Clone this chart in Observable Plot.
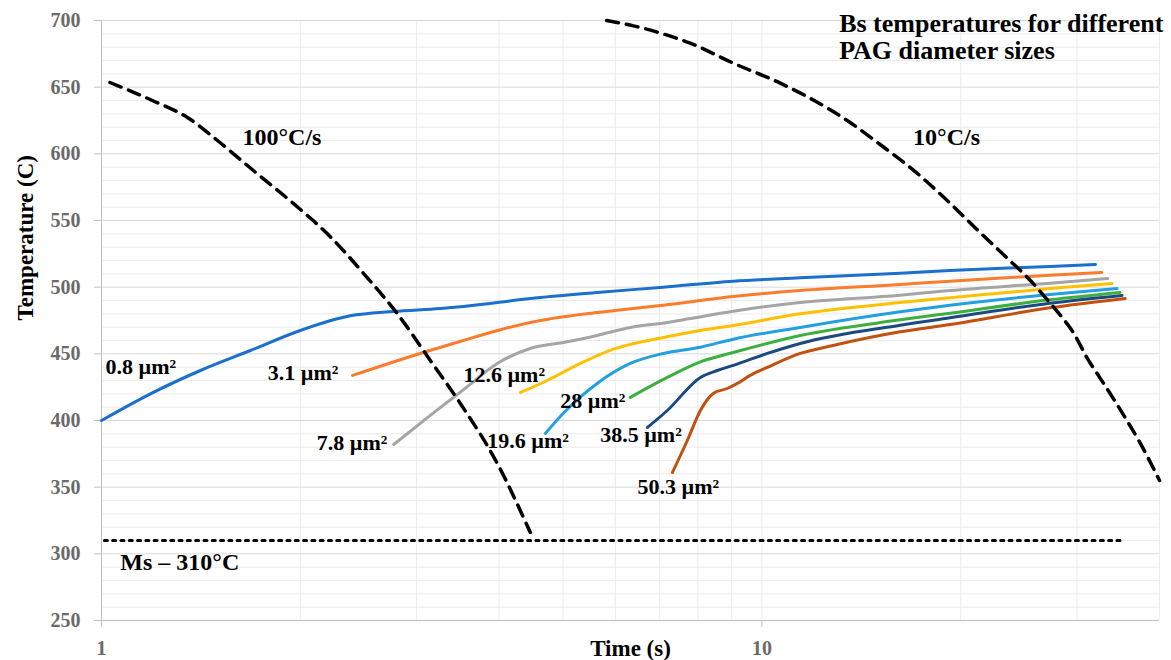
<!DOCTYPE html>
<html>
<head>
<meta charset="utf-8">
<script src="https://cdn.jsdelivr.net/npm/d3@7"></script>
<script src="https://cdn.jsdelivr.net/npm/@observablehq/plot@0.6"></script>
<style>
  html, body { margin: 0; padding: 0; background: #fff; }
  #chart { width: 1171px; height: 660px; }
</style>
</head>
<body>
<div id="chart"></div>
<script>
// ---- Data ----
const seriesNames = ["0.8 µm²", "3.1 µm²", "7.8 µm²", "12.6 µm²", "19.6 µm²", "28 µm²", "38.5 µm²", "50.3 µm²"];
const seriesColors = ["#1b6fcd", "#fb7c2c", "#a5a5a5", "#ffc000", "#22a0e0", "#3daf3f", "#1b4a80", "#c2500f"];

const t08  = [1.0, 1.186, 1.412, 1.681, 2.0, 2.38, 2.77, 3.26, 3.53, 4.46, 5.63, 7.09, 9.05, 11.43, 16.2, 19.27, 27.3, 32.0];
const T08  = [400, 420, 437.5, 452.5, 467.5, 478.5, 481.8, 484, 485.5, 491.5, 496, 500, 504.5, 507, 510.5, 512.5, 515.5, 517];
const t31  = [2.40, 3.07, 3.53, 3.98, 4.46, 5.63, 7.09, 9.05, 11.43, 16.2, 19.27, 27.3, 32.7];
const T31  = [433.8, 451, 460, 467.5, 473.5, 481, 486.5, 493, 497.5, 502, 504.5, 509, 511];
const t78  = [2.77, 3.15, 3.53, 3.98, 4.46, 5.0, 5.63, 6.32, 7.19, 7.79, 9.05, 11.43, 16.2, 19.27, 27.3, 33.4];
const T78  = [382, 404, 423, 443, 454, 458.5, 463.8, 469.8, 473.5, 476.5, 482, 488.5, 494, 497.5, 503, 506.5];
const t126 = [4.31, 4.73, 5.31, 5.96, 7.09, 8.07, 9.05, 11.43, 16.2, 19.27, 27.3, 33.9];
const T126 = [421, 430, 442.8, 453.5, 462.3, 467.5, 471.3, 480, 488.5, 492, 499, 502.8];
const t196 = [4.70, 5.0, 5.63, 6.32, 7.09, 8.07, 9.05, 11.43, 16.2, 19.27, 27.3, 34.5];
const T196 = [390.3, 405.3, 427.8, 442.8, 450.3, 455, 461, 469.8, 481.5, 486.5, 494.5, 499];
const t28  = [6.32, 7.19, 8.07, 9.05, 11.43, 16.2, 19.27, 27.3, 34.85];
const T28  = [417.3, 432.3, 444, 451, 463.8, 475.5, 480.5, 490.5, 496];
const t385 = [6.71, 7.19, 8.07, 8.56, 9.05, 10.19, 11.43, 16.2, 19.27, 27.3, 35.1];
const T385 = [394.8, 407.5, 432.3, 437.5, 441.3, 450.3, 457.8, 471.5, 477, 488, 493.8];
const t503 = [7.32, 7.71, 8.07, 8.44, 8.86, 9.18, 9.60, 10.19, 11.43, 12.82, 16.2, 19.27, 27.3, 35.5];
const T503 = [361, 385, 407.5, 420.3, 424, 427.8, 433.8, 439.8, 450.3, 456.3, 466.5, 472, 484.5, 491.5];
const seriesTimes = [t08, t31, t78, t126, t196, t28, t385, t503];
const seriesTemps = [T08, T31, T78, T126, T196, T28, T385, T503];

// label anchors for each series (time, temperature)
const labelTimes = [1.014, 2.284, 2.71, 3.532, 3.838, 4.95, 5.69, 6.48];
const labelTemps = [440.5, 436, 383.5, 433.8, 384.3, 414.3, 388.8, 349.8];
const labelAnchors = ["start", "end", "end", "start", "start", "start", "start", "start"];

// cooling curves
const cool100Times = [1.03, 1.194, 1.349, 1.498, 1.698, 1.952, 2.198, 2.527, 2.806, 3.147, 3.494, 3.975, 4.46];
const cool100Temps = [653.5, 640, 627.3, 610, 587.5, 562.8, 540, 507, 480, 445, 412.8, 367.8, 316];
const cool10Times = [5.82, 6.39, 7.19, 7.79, 9.05, 10.66, 12.0, 13.46, 15.1, 16.94, 19.08, 21.4, 23.5, 25.5, 27.0, 28.3, 29.7, 31.07, 32.5, 34.0, 35.7, 37.4, 40.0];
const cool10Temps = [700, 696, 689, 683, 668, 653, 640, 625, 607, 588, 565, 541, 522, 505, 491, 479, 465, 447, 432, 417, 400, 383, 355];
const msTimes = [1.01, 34.9];
const msTemps = [310, 310];

const yTicks = [250, 300, 350, 400, 450, 500, 550, 600, 650, 700];
const yMinor = [260, 270, 280, 290, 310, 320, 330, 340, 360, 370, 380, 390, 410, 420, 430, 440, 460, 470, 480, 490, 510, 520, 530, 540, 560, 570, 580, 590, 610, 620, 630, 640, 660, 670, 680, 690];
const xTicks = [1, 10];
const xGrid = [2, 3, 4, 5, 6, 7, 8, 9, 10, 20, 30, 40];

const annotations = [
  {x: 1.635, y: 612.3, text: "100°C/s"},
  {x: 16.94, y: 612.3, text: "10°C/s"},
  {x: 1.068, y: 293.5, text: "Ms – 310°C"}
];
const titleLines = [
  {x: 13.09, y: 697.5, text: "Bs temperatures for different"},
  {x: 13.09, y: 677.5, text: "PAG diameter sizes"}
];

// ---- Build chart ----
const font = "Liberation Serif";
const seriesMarks = seriesNames.map((name, i) => {
  const rows = seriesTimes[i].map((t, j) => ({t, T: seriesTemps[i][j]}));
  return Plot.line(rows, {x: "t", y: "T", stroke: seriesColors[i], strokeWidth: 3, curve: "monotone-x"});
});
const labelRows = seriesNames.map((name, i) => ({x: labelTimes[i], y: labelTemps[i], text: name, anchor: labelAnchors[i]}));
const cool100 = cool100Times.map((t, j) => ({t, T: cool100Temps[j]}));
const cool10 = cool10Times.map((t, j) => ({t, T: cool10Temps[j]}));
const ms = msTimes.map((t, j) => ({t, T: msTemps[j]}));
const yTickRows = yTicks.map(v => ({v, label: String(v)}));
const xTickRows = xTicks.map(v => ({v, label: String(v)}));
const labelStyle = {x: "x", y: "y", text: "text", fontSize: 22, fontWeight: "bold", fill: "#000", lineAnchor: "middle"};

const chart = Plot.plot({
  width: 1171,
  height: 660,
  marginLeft: 101,
  marginRight: 12,
  marginTop: 20,
  marginBottom: 40,
  style: {fontFamily: font, fontSize: "18px", background: "#fff"},
  x: {type: "log", domain: [1, 40], axis: null},
  y: {domain: [250, 700], axis: null},
  marks: [
    Plot.gridY(yMinor, {stroke: "#ebebeb", strokeOpacity: 1}),
    Plot.gridX(xGrid, {stroke: "#ececec", strokeOpacity: 1}),
    Plot.gridY(yTicks, {stroke: "#d9d9d9", strokeOpacity: 1}),
    Plot.ruleX([1], {stroke: "#bfbfbf"}),
    Plot.ruleY([250], {stroke: "#bfbfbf"}),
    Plot.axisY(yTicks, {tickSize: 7, stroke: "#bfbfbf", tickFormat: () => "", label: null}),
    Plot.axisX(xTicks, {tickSize: 7, stroke: "#bfbfbf", tickFormat: () => "", label: null}),
    Plot.text(yTickRows, {y: "v", text: "label", frameAnchor: "left", dx: -21, textAnchor: "end", fill: "#6a6a6a", fontSize: 20, fontWeight: "bold", lineAnchor: "middle"}),
    Plot.text(xTickRows, {x: "v", text: "label", frameAnchor: "bottom", dy: 28, fill: "#6a6a6a", fontSize: 20, fontWeight: "bold", lineAnchor: "middle"}),
    Plot.line(ms, {x: "t", y: "T", stroke: "#000", strokeWidth: 3, strokeDasharray: "3,5.3"}),
    ...seriesMarks,
    Plot.line(cool100, {x: "t", y: "T", stroke: "#000", strokeWidth: 3.5, strokeDasharray: "12,8", curve: "monotone-x"}),
    Plot.line(cool10, {x: "t", y: "T", stroke: "#000", strokeWidth: 3.5, strokeDasharray: "12,8", curve: "monotone-x"}),
    Plot.text(labelRows.filter(d => d.anchor === "start"), {...labelStyle, textAnchor: "start"}),
    Plot.text(labelRows.filter(d => d.anchor === "end"), {...labelStyle, textAnchor: "end"}),
    Plot.text(annotations, {x: "x", y: "y", text: "text", textAnchor: "start", fontSize: 24, fontWeight: "bold", fill: "#000", lineAnchor: "middle"}),
    Plot.text(titleLines, {x: "x", y: "y", text: "text", textAnchor: "start", fontSize: 26, fontWeight: "bold", fill: "#000", lineAnchor: "middle"}),
    Plot.text(["Time (s)"], {frameAnchor: "bottom", dy: 28, fontSize: 23, fontWeight: "bold", fill: "#000", lineAnchor: "middle"}),
    Plot.text(["Temperature (C)"], {frameAnchor: "left", dx: -76, rotate: -90, fontSize: 23, fontWeight: "bold", fill: "#000", lineAnchor: "middle"})
  ]
});
document.getElementById("chart").appendChild(chart);
</script>
</body>
</html>
